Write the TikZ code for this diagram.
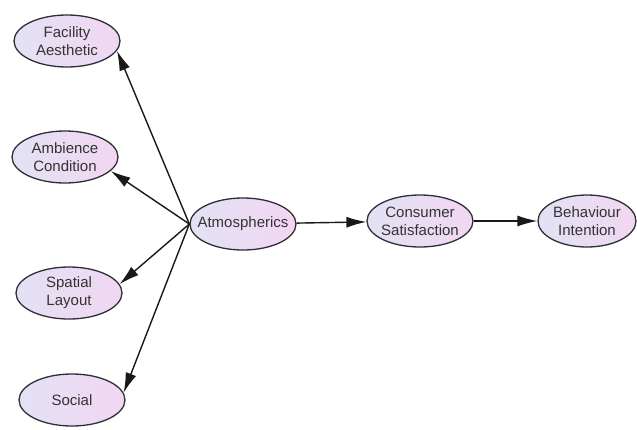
\documentclass[tikz,border=0pt]{standalone}
\usepackage{fontspec}
\setmainfont{Liberation Sans}
\usetikzlibrary{shapes.geometric,arrows.meta}
\definecolor{lleft}{HTML}{E2E2F4}
\definecolor{lright}{HTML}{F2D6F2}
\definecolor{edge}{HTML}{2E2E38}
\tikzset{
  var/.style={ellipse, draw=edge, line width=1.3pt, left color=lleft, right color=lright,
    minimum width=106pt, minimum height=52pt, inner sep=0pt},
  vt/.style={label={[align=center, font=\fontsize{15}{18}\selectfont, text=black!80]center:#1}},
  arr/.style={-{Latex[length=20pt,width=11pt]}, line width=1.4pt, draw=black!90}
}
\begin{document}
\begin{tikzpicture}[x=1pt,y=-1pt]
\useasboundingbox (0,0) rectangle (637,429);
\node[var, vt={Facility\\Aesthetic}] (fa) at (67,41) {};
\node[var, vt={Ambience\\Condition}] (ac) at (65,157) {};
\node[var, vt={Spatial\\Layout}] (sl) at (69,293) {};
\node[var, vt={Social}] (so) at (72,400) {};
\node[var, vt={Atmospherics}] (atm) at (243,224) {};
\node[var, vt={Consumer\\Satisfaction}] (cs) at (420,221) {};
\node[var, minimum width=98pt, vt={Behaviour\\Intention}] (bi) at (587,221) {};
\draw[arr] (atm.west) -- (fa.-11);
\draw[arr] (atm.west) -- (ac.-17);
\draw[arr] (atm.west) -- (sl.10);
\draw[arr] (atm.west) -- (so.8);
\draw[arr] (atm) -- (cs);
\draw[arr] (cs) -- (bi);
\end{tikzpicture}
\end{document}
